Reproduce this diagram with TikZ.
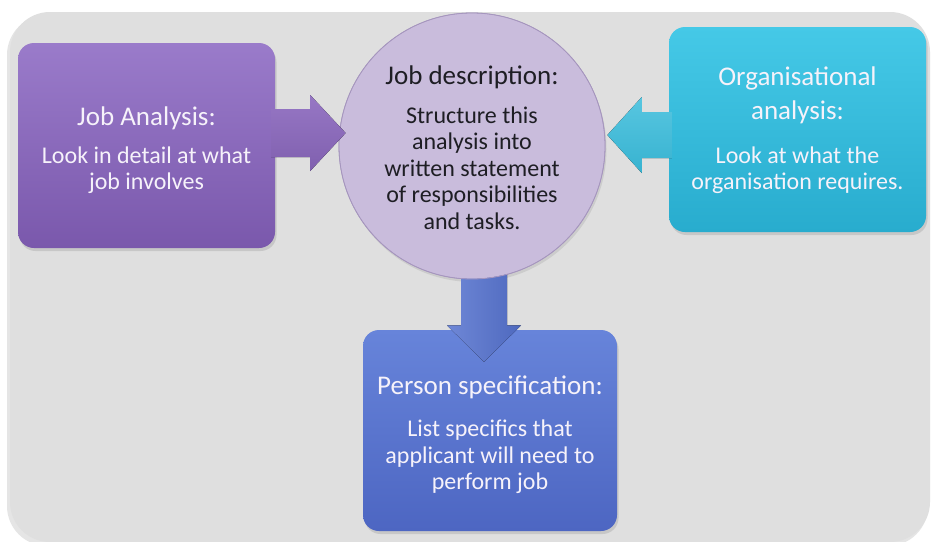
\documentclass[tikz,border=0pt]{standalone}
\usepackage{fontspec}
\setmainfont{Carlito}
\usetikzlibrary{calc,shadows}
\definecolor{bgc}{HTML}{DFDFDF}
\definecolor{purtop}{HTML}{9A7BCA}
\definecolor{purbot}{HTML}{7A58AC}
\definecolor{circfill}{HTML}{C9BCDC}
\definecolor{circline}{HTML}{A696BE}
\definecolor{cyantop}{HTML}{45C9E7}
\definecolor{cyanbot}{HTML}{28ACCE}
\definecolor{bluetop}{HTML}{6784DA}
\definecolor{bluebot}{HTML}{4D66C2}
\definecolor{boxtext}{HTML}{F6F2FA}
\definecolor{darktext}{HTML}{1E1E24}
\definecolor{parrowc}{HTML}{8B68BE}
\definecolor{carrowc}{HTML}{3ABCDB}
\definecolor{barrowc}{HTML}{5572CF}
\tikzset{
  box/.style={rectangle, rounded corners=16pt, inner sep=0pt,
    drop shadow={opacity=0.25, shadow xshift=1.5pt, shadow yshift=-3pt}},
  titletxt/.style={text=boxtext, font=\fontsize{27}{34}\selectfont, align=center, inner sep=0pt},
  bodytxt/.style={text=boxtext, font=\fontsize{24}{26.5}\selectfont, align=center, inner sep=0pt},
}
\begin{document}
\begin{tikzpicture}[x=1pt,y=-1pt]
\useasboundingbox (0,0) rectangle (931,541);
\fill[white] (0,0) rectangle (931,541);
% background panel
\fill[black!10, rounded corners=40pt] (7,15) rectangle (928,546);
\fill[bgc, rounded corners=40pt] (10,12) rectangle (930,542);

% boxes
\node[box, minimum width=257pt, minimum height=205pt, top color=purtop, bottom color=purbot] (ja) at (146.5,145.5) {};
\node[box, minimum width=257pt, minimum height=205pt, top color=cyantop, bottom color=cyanbot] (oa) at (797.5,129.5) {};
\node[box, minimum width=254pt, minimum height=201pt, top color=bluetop, bottom color=bluebot] (ps) at (490,430.5) {};

% circle
\node[circle, minimum size=266pt, inner sep=0pt, fill=circfill, draw=circline, line width=0.8pt,
  drop shadow={opacity=0.2, shadow xshift=1.5pt, shadow yshift=-3pt}] (jd) at (472,146) {};

% down arrow (under circle, over person box)
\coordinate (da) at ($(jd.south)+(12,-10)$);
\coordinate (td) at ($(ps.north)+(-6,32)$);
\fill[left color=barrowc!85!white, right color=barrowc!92!black] (da) -- ++(-23,0) -- ++(0,56) -- ++(-14,0) -- (td) -- ($(da)+(37,56)$) -- ++(-14,0) -- ++(0,-56) -- cycle;
% circle again on top of the arrow's start
\fill[circfill] (jd.center) circle (132.6pt);
\draw[circline, line width=0.8pt] (jd.center) circle (133pt);

% left arrow
\coordinate (pa) at ($(ja.east)+(-4,-12.5)$);
\coordinate (tl) at ($(jd.west)+(7,-13)$);
\fill[top color=parrowc!90!white, bottom color=parrowc!92!black] (pa) -- ++(0,-24) -- ++(39,0) -- ++(0,-14) -- (tl) -- ($(pa)+(39,38)$) -- ++(0,-14) -- ++(-39,0) -- cycle;

% right arrow
\coordinate (ca) at ($(oa.west)+(3,5.5)$);
\coordinate (tr) at ($(jd.east)+(2,-11)$);
\fill[top color=carrowc!85!white, bottom color=carrowc!95!black] (ca) -- ++(0,-23) -- ++(-30,0) -- ++(0,-15) -- (tr) -- ($(ca)+(-30,38)$) -- ++(0,-15) -- ++(30,0) -- cycle;

% texts
\node[titletxt] (jat) at (146.5,118) {Job Analysis:};
\node[bodytxt] (jab) at (146.5,170) {Look in detail at what\\job involves};

\node[titletxt, text=darktext] (jdt) at (472,77) {Job description:};
\node[bodytxt, text=darktext] (jdb) at (472,168) {Structure this\\analysis into\\written statement\\of responsibilities\\and tasks.};

\node[titletxt] (oat) at (797.5,95) {Organisational\\analysis:};
\node[bodytxt] (oab) at (797.5,170) {Look at what the\\organisation requires.};

\node[titletxt] (pst) at (490,387) {Person specification:};
\node[bodytxt] (psb) at (490,457) {List specifics that\\applicant will need to\\perform job};
\end{tikzpicture}
\end{document}
